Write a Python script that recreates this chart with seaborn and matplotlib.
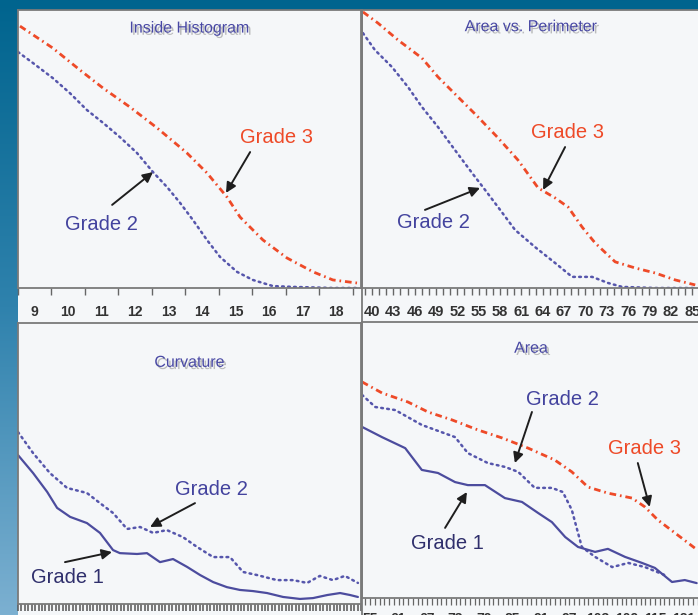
import numpy as np
import pandas as pd
import matplotlib
matplotlib.use("Agg")
import matplotlib.pyplot as plt
import matplotlib.patheffects as pe
from matplotlib.colors import LinearSegmentedColormap
from matplotlib.patches import Rectangle
from matplotlib.lines import Line2D
from matplotlib.ticker import MultipleLocator, FixedLocator, NullFormatter, FixedFormatter
import seaborn as sns

sns.set_style("white")
plt.rcParams["font.family"] = ["Liberation Sans", "DejaVu Sans"]

# ---- Inside Histogram ----
hist_g3_x = [8.56, 9.54, 10.35, 11.04, 11.84, 12.65, 13.54, 14.14, 14.74, 15.13, 15.81, 16.53, 17.31, 17.90, 18.62]
hist_g3_y = [94.2, 86.3, 78.4, 71.9, 65.1, 57.6, 48.6, 41.4, 32.7, 25.5, 17.3, 10.8, 5.8, 2.9, 1.8]
hist_g2_x = [8.50, 8.95, 9.54, 10.05, 10.56, 11.04, 11.54, 12.05, 12.53, 12.95, 13.34, 13.72, 14.14, 14.53,
             15.04, 15.51, 16.11, 16.71, 17.90, 18.62]
hist_g2_y = [84.9, 80.9, 75.5, 70.1, 64.0, 59.4, 54.3, 48.6, 41.7, 36.3, 30.6, 24.5, 17.3, 11.2,
             5.8, 2.9, 0.7, 0.4, 0.0, 0.0]
hist_ticks = [9, 10, 11, 12, 13, 14, 15, 16, 17, 18]

# ---- Area vs. Perimeter ----
avp_g3_x = [38.73, 40.84, 43.66, 47.03, 49.28, 52.10, 54.91, 57.72, 60.53, 63.35, 65.74, 67.57, 69.54,
            71.36, 74.18, 76.99, 79.80, 82.62, 85.43]
avp_g3_y = [99.3, 95.3, 89.2, 82.7, 75.9, 68.7, 61.5, 54.0, 46.0, 36.0, 32.4, 29.1, 21.9,
            16.2, 9.4, 7.2, 5.4, 2.9, 1.1]
avp_g2_x = [38.73, 40.42, 42.81, 45.06, 47.03, 49.28, 51.67, 54.06, 55.89, 57.72, 60.11, 62.93, 65.74,
            68.13, 70.94, 73.19, 75.16, 79.80, 85.43]
avp_g2_y = [91.7, 85.6, 79.5, 72.3, 65.1, 57.9, 49.6, 41.4, 35.3, 29.1, 20.9, 14.7, 9.0,
            4.0, 4.0, 1.8, 0.4, 0.0, 0.0]
avp_ticks = list(range(40, 86, 3))

# ---- Curvature ----
curv_g2_x = [0.0, 4.4, 9.3, 14.3, 20.1, 23.9, 27.7, 31.8, 35.6, 39.4, 43.4, 48.1, 52.2, 56.9, 61.8,
             65.6, 69.7, 75.5, 80.2, 84.3, 88.0, 91.8, 95.3, 99.1]
curv_g2_y = [61.2, 53.7, 46.6, 41.3, 39.5, 35.9, 32.4, 26.7, 27.4, 25.3, 26.3, 23.8, 20.3, 16.7, 16.7,
             11.4, 10.3, 8.5, 8.5, 7.5, 10.0, 8.5, 10.0, 7.5]
curv_g1_x = [0.0, 4.4, 8.5, 11.4, 15.2, 20.1, 23.9, 27.7, 29.7, 34.7, 37.6, 41.4, 45.2, 49.3, 53.1,
             56.9, 60.9, 64.7, 68.5, 72.6, 77.3, 82.2, 86.0, 90.2, 93.9, 96.8, 99.1]
curv_g1_y = [53.0, 46.6, 39.9, 34.2, 31.0, 28.8, 25.3, 19.2, 18.1, 17.8, 18.1, 14.9, 16.0, 13.2, 10.3,
             7.8, 6.0, 5.0, 4.6, 3.9, 2.5, 1.8, 2.1, 3.2, 3.9, 3.2, 2.5]

# ---- Area ----
area_g3_x = [53.3, 57.5, 63.0, 67.2, 72.3, 77.7, 82.8, 88.3, 93.9, 97.5, 100.9, 105.1, 110.2, 112.9,
             115.6, 119.2, 123.4]
area_g3_y = [78.3, 74.3, 71.0, 67.4, 64.5, 60.9, 58.0, 54.3, 50.0, 45.7, 40.2, 38.0, 36.2, 33.0,
             28.3, 23.6, 18.1]
area_g2_x = [53.3, 56.1, 60.3, 65.9, 72.9, 75.6, 79.8, 83.4, 86.2, 89.7, 93.3, 95.6, 97.5, 99.6,
             102.4, 106.0, 109.4, 112.9, 117.1]
area_g2_y = [73.6, 69.2, 68.1, 62.7, 58.3, 52.5, 48.9, 47.5, 45.7, 39.9, 39.9, 38.4, 31.9, 18.5,
             14.9, 11.2, 12.7, 11.2, 8.3]
area_g1_x = [53.3, 57.5, 62.4, 65.9, 69.3, 72.9, 75.6, 79.2, 83.4, 87.0, 90.4, 93.3, 96.1, 98.8,
             102.4, 105.1, 108.7, 112.3, 115.0, 118.6, 121.3, 123.8]
area_g1_y = [62.0, 58.3, 54.3, 46.4, 45.3, 42.0, 40.9, 40.9, 36.2, 34.8, 30.8, 27.5, 22.1, 18.5,
             16.7, 17.8, 14.9, 12.7, 10.9, 5.8, 6.5, 5.4]
area_ticks = list(range(55, 122, 6))

RED = "#ee4a28"
BLUE = "#5656ac"
BLUE_TXT = "#43439e"
NAVY = "#2f2f6c"
TITLE = "#4848a4"
SPINE = "#7a7a7a"

W, H = 698, 615
fig = plt.figure(figsize=(W / 100, H / 100), dpi=100)

# blue gradient backdrop
bg = fig.add_axes([0, 0, 1, 1], zorder=-20)
cmap = LinearSegmentedColormap.from_list("bg", ["#00648e", "#2f82ad", "#7cb0d1"])
bg.imshow(np.linspace(0, 1, 256)[:, None], aspect="auto", cmap=cmap, extent=[0, 1, 0, 1])
bg.set_axis_off()
bg.add_patch(Rectangle((18 / W, 0), 1, (H - 10) / H, transform=bg.transAxes,
                       facecolor="#f5f7f9", edgecolor="none"))


def box(x0, x1, y0, y1):
    return [x0 / W, (H - y1) / H, (x1 - x0) / W, (y1 - y0) / H]


ax_hist = fig.add_axes(box(18, 361, 10, 288))
ax_avp = fig.add_axes(box(362, 700, 10, 288))
ax_curv = fig.add_axes(box(18, 361, 323, 604))
ax_area = fig.add_axes(box(362, 700, 322, 598))

dot = dict(linestyle=(0, (0.7, 1.7)), lw=1.8, dash_capstyle="round")
dashdot = dict(linestyle=(0, (2.4, 1.4, 0.6, 1.4)), lw=2.0)


def draw(ax, x, y, color, style):
    sns.lineplot(x=x, y=y, ax=ax, color=color, estimator=None, sort=False, **style)


draw(ax_hist, hist_g3_x, hist_g3_y, RED, dashdot)
draw(ax_hist, hist_g2_x, hist_g2_y, BLUE, dot)
draw(ax_avp, avp_g3_x, avp_g3_y, RED, dashdot)
draw(ax_avp, avp_g2_x, avp_g2_y, BLUE, dot)
draw(ax_curv, curv_g2_x, curv_g2_y, BLUE, dot)
draw(ax_curv, curv_g1_x, curv_g1_y, "#4c4c9e", dict(lw=1.6))
draw(ax_area, area_g3_x, area_g3_y, RED, dashdot)
draw(ax_area, area_g2_x, area_g2_y, BLUE, dot)
draw(ax_area, area_g1_x, area_g1_y, "#4c4c9e", dict(lw=1.6))

ax_hist.set_xlim(8.5, 18.74)
ax_avp.set_xlim(38.6, 86.1)
ax_curv.set_xlim(0, 100)
ax_area.set_xlim(53.3, 124.5)
for ax in (ax_hist, ax_avp, ax_curv, ax_area):
    ax.set_ylim(0, 100)
    ax.set_facecolor("none")
    ax.set_yticks([])
    ax.set_xlabel("")
    ax.set_ylabel("")
    for s in ax.spines.values():
        s.set_color(SPINE)
        s.set_linewidth(1.3)
    ax.tick_params(axis="x", which="both", bottom=True, direction="out", color="#666666", width=1.0,
                   labelcolor="#333333", labelsize=10)

# tick marks between bins, labels at bin centres
ax_hist.xaxis.set_major_locator(FixedLocator(np.arange(8.5, 18.6, 1.0)))
ax_hist.xaxis.set_major_formatter(NullFormatter())
ax_hist.xaxis.set_minor_locator(FixedLocator(hist_ticks))
ax_hist.xaxis.set_minor_formatter(FixedFormatter([str(t) for t in hist_ticks]))
ax_hist.tick_params(axis="x", which="major", length=5)
ax_hist.tick_params(axis="x", which="minor", length=0, pad=12)

ax_avp.xaxis.set_major_locator(FixedLocator(avp_ticks))
ax_avp.set_xticklabels([str(t) for t in avp_ticks])
ax_avp.xaxis.set_minor_locator(MultipleLocator(1))
ax_avp.tick_params(axis="x", which="both", length=5, pad=7, labelsize=10.5)

ax_curv.xaxis.set_major_locator(MultipleLocator(1))
ax_curv.xaxis.set_major_formatter(NullFormatter())
ax_curv.tick_params(axis="x", which="major", length=5, width=1.1, color="#555555")

ax_area.xaxis.set_major_locator(FixedLocator(area_ticks))
ax_area.set_xticklabels([str(t) for t in area_ticks])
ax_area.xaxis.set_minor_locator(MultipleLocator(1))
ax_area.tick_params(axis="x", which="both", length=5, width=0.9, pad=5)

for lab in ax_hist.get_xticklabels(minor=True) + ax_avp.get_xticklabels() + ax_area.get_xticklabels():
    lab.set_fontweight("bold")

# divider through the tick-label band
fig.add_artist(Line2D([361.5 / W] * 2, [0, (H - 10) / H], color=SPINE, lw=1.3))

shadow = [pe.SimplePatchShadow(offset=(1.6, -1.6), shadow_rgbFace="#8a8a8a", alpha=0.55), pe.Normal()]


def title(ax, text, fy):
    ax.text(0.5, fy, text, transform=ax.transAxes, ha="center", va="center", color=TITLE,
            fontsize=11.5, path_effects=shadow)


title(ax_hist, "Inside Histogram", 0.935)
title(ax_avp, "Area vs. Perimeter", 0.94)
title(ax_curv, "Curvature", 0.86)
title(ax_area, "Area", 0.905)

arrow = dict(arrowstyle="-|>", color="#1e1e1e", lw=1.4, mutation_scale=15, shrinkA=0, shrinkB=0)


def label(ax, text, color, txy, tail, tip):
    ax.annotate("", xy=tip, xytext=tail, arrowprops=arrow)
    ax.text(*txy, text, color=color, fontsize=14.5, ha="center", va="center")


label(ax_hist, "Grade 3", RED, (16.23, 54.0), (15.43, 48.9), (14.71, 34.2))
label(ax_hist, "Grade 2", BLUE_TXT, (10.98, 23.0), (11.31, 29.9), (12.53, 41.7))
label(ax_avp, "Grade 3", RED, (67.43, 55.8), (67.14, 50.7), (64.05, 35.3))
label(ax_avp, "Grade 2", BLUE_TXT, (48.58, 23.4), (47.45, 28.1), (55.19, 36.0))
label(ax_curv, "Grade 2", BLUE_TXT, (56.3, 40.6), (51.6, 35.9), (38.5, 27.4))
label(ax_curv, "Grade 1", NAVY, (14.3, 9.6), (13.7, 14.9), (27.4, 18.5))
label(ax_area, "Grade 2", BLUE_TXT, (95.6, 72.1), (89.1, 67.4), (85.5, 48.9))
label(ax_area, "Grade 3", RED, (112.9, 54.3), (111.4, 48.9), (113.9, 33.0))
label(ax_area, "Grade 1", NAVY, (71.4, 19.9), (70.8, 25.4), (75.4, 38.4))

fig.savefig("out.png", dpi=100)
